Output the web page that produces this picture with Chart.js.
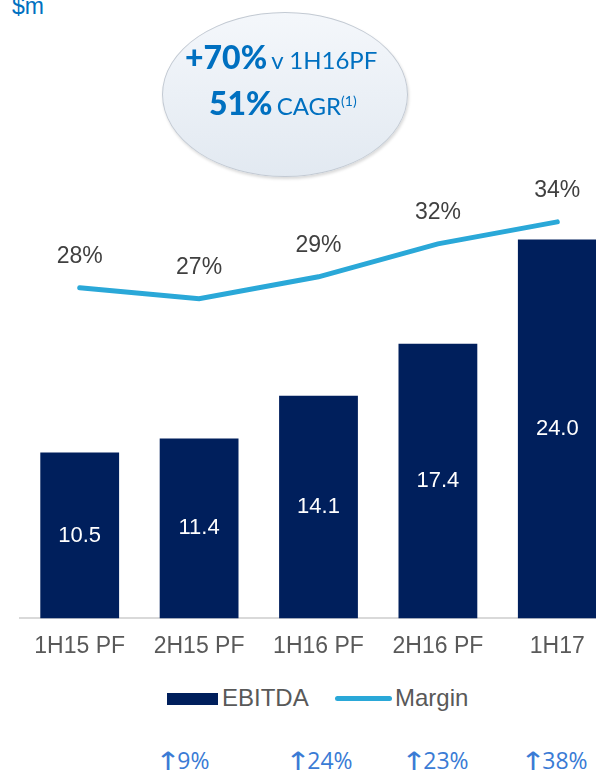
<!DOCTYPE html>
<html>
<head>
<meta charset="utf-8">
<script src="https://cdn.jsdelivr.net/npm/chart.js@4.4.0/dist/chart.umd.min.js"></script>
<style>
  html, body { margin: 0; padding: 0; background: #fff; overflow: hidden; }
  body { width: 596px; height: 772px; position: relative; font-family: "Liberation Sans", Arial, sans-serif; }
  #wrap { position: absolute; left: 0; top: 0; width: 620px; height: 669px; }
  .unit { position: absolute; left: 12px; top: -7px; color: #0070C0; font-size: 23px; }
  .bubble {
    position: absolute; left: 162px; top: 12px; width: 246px; height: 165px;
    border-radius: 50%; border: 1.5px solid #c3cad3; box-sizing: border-box;
    background: linear-gradient(#f4f7fb, #e2e9f1);
    box-shadow: 1px 2px 3px rgba(0,0,0,0.15);
    font-family: Lato, "Open Sans", sans-serif; color: #0070C0; white-space: nowrap;
  }
  .bubble .l { position: absolute; line-height: 1; }
  .bubble b { font-size: 32px; font-weight: 900; }
  .bubble span { font-size: 24px; }
  .bubble sup { font-size: 14px; vertical-align: 9px; line-height: 0; }
  .legend { position: absolute; top: 684px; left: 0; width: 596px; height: 28px; color: #595959; font-size: 24px; }
  .legend .box { position: absolute; left: 167px; top: 9px; width: 51px; height: 12px; background: #001F5C; }
  .legend .line { position: absolute; left: 335px; top: 12px; width: 57px; height: 5px; border-radius: 3px; background: #2AA8D8; }
  .legend .t { position: absolute; top: 0; line-height: 28px; }
  .growth { position: absolute; top: 748px; color: #3A7BD5; font-size: 23px; line-height: 24px; font-family: "Open Sans", "Noto Sans", sans-serif; white-space: nowrap; }
  .growth i { font-style: normal; font-family: "DejaVu Sans", sans-serif; display: inline-block; transform: scale(1.35, 1.1); margin: 0 0 0 3px; }
</style>
</head>
<body>
<div class="unit">$m</div>
<div id="wrap"><canvas id="chart" width="620" height="669"></canvas></div>
<div class="bubble">
  <div class="l" style="left:22px; top:28px"><b>+70%</b> <span>v 1H16PF</span></div>
  <div class="l" style="left:46px; top:74px"><b>51%</b> <span>CAGR<sup>(1)</sup></span></div>
</div>
<div class="legend">
  <div class="box"></div><div class="t" style="left:222px">EBITDA</div>
  <div class="line"></div><div class="t" style="left:395px">Margin</div>
</div>
<div id="growthRow"></div>
<script>
const periods = ["1H15 PF", "2H15 PF", "1H16 PF", "2H16 PF", "1H17"];
const ebitda = [10.5, 11.4, 14.1, 17.4, 24.0];
const margin = [28, 27, 29, 32, 34];
const growth = ["", "9%", "24%", "23%", "38%"];
const growthLeft = [0, 155, 285, 401, 520];

// growth row under the chart
growth.forEach((g, i) => {
  if (!g) return;
  const d = document.createElement("div");
  d.className = "growth";
  d.style.left = growthLeft[i] + "px";
  d.innerHTML = "<i>\u2191</i>" + g;
  document.getElementById("growthRow").appendChild(d);
});

const labelPlugin = {
  id: "labels",
  afterDatasetsDraw(chart) {
    const ctx = chart.ctx;
    ctx.save();
    ctx.textAlign = "center";
    ctx.textBaseline = "middle";
    ctx.font = "22px 'Liberation Sans', Arial, sans-serif";
    chart.getDatasetMeta(1).data.forEach((bar, i) => {
      ctx.fillStyle = "#ffffff";
      ctx.fillText(ebitda[i].toFixed(1), bar.x, (bar.y + bar.base) / 2);
    });
    ctx.font = "23px 'Liberation Sans', Arial, sans-serif";
    chart.getDatasetMeta(0).data.forEach((pt, i) => {
      ctx.fillStyle = "#404040";
      ctx.fillText(margin[i] + "%", pt.x, pt.y - 31);
    });
    ctx.restore();
  }
};

new Chart(document.getElementById("chart"), {
  data: {
    labels: periods,
    datasets: [
      {
        type: "line", label: "Margin", data: margin, yAxisID: "y1",
        borderColor: "#2AA8D8", borderWidth: 5, borderCapStyle: "round",
        pointRadius: 0, tension: 0, order: 0
      },
      {
        type: "bar", label: "EBITDA", data: ebitda, yAxisID: "y",
        backgroundColor: "#001F5C", categoryPercentage: 1, barPercentage: 0.66, order: 1
      }
    ]
  },
  options: {
    responsive: false,
    animation: false,
    layout: { padding: { top: 140, left: 20, right: 3, bottom: 3 } },
    plugins: { legend: { display: false }, tooltip: { enabled: false } },
    scales: {
      x: {
        grid: { display: false },
        border: { color: "#d9d9d9", width: 2 },
        ticks: { color: "#595959", font: { size: 23, family: "'Liberation Sans', Arial, sans-serif" }, padding: 6 }
      },
      y: { display: false, min: 0, max: 30.3 },
      y1: { display: false, min: -2.09, max: 41.45 }
    }
  },
  plugins: [labelPlugin]
});
</script>
</body>
</html>
